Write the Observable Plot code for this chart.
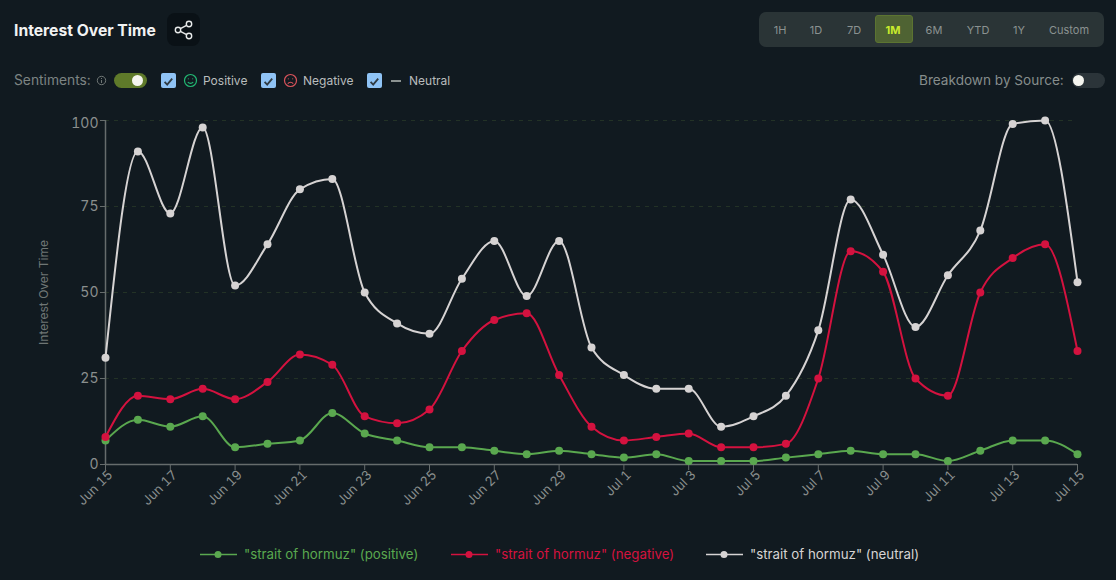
<!DOCTYPE html>
<html><head><meta charset="utf-8">
<script src="https://cdn.jsdelivr.net/npm/d3@7"></script>
<script src="https://cdn.jsdelivr.net/npm/@observablehq/plot@0.6"></script>
<style>
html,body{margin:0;padding:0;background:#111a20;width:1116px;height:580px;overflow:hidden;font-family:Inter,sans-serif}
.a{position:absolute;white-space:nowrap;line-height:1}
#chart{position:absolute;left:0;top:100px}
#chart svg{background:transparent;display:block}
.cb{position:absolute;top:73px;width:15px;height:15px;border-radius:2px;background:#8fc3f5;color:#2a3238}
.range{position:absolute;font-size:11px;color:#8b9291;transform:translateX(-50%);line-height:1}
.leg{position:absolute;top:546px;font-size:13.3px;line-height:17px;white-space:nowrap}
</style></head><body>
<div class="a" style="left:14px;top:23px;font-size:15.7px;font-weight:700;color:#f2f3f3">Interest Over Time</div>
<div class="a" style="left:167px;top:13px;width:33px;height:33px;border-radius:8px;background:#0a1116">
<svg width="33" height="33" viewBox="0 0 33 33" fill="none" stroke="#e8eaea" stroke-width="1.4"><circle cx="22" cy="11" r="2.7"/><circle cx="11" cy="17" r="2.7"/><circle cx="22" cy="23" r="2.7"/><path d="M13.4 15.7l6.2-3.4M13.4 18.3l6.2 3.4"/></svg></div>
<div class="a" style="left:14px;top:74px;font-size:13.8px;color:#7d8483">Sentiments:</div>
<svg class="a" style="left:96px;top:75px" width="11" height="11" viewBox="0 0 11 11" fill="none" stroke="#6f7675"><circle cx="5.5" cy="5.5" r="4.2"/><path d="M5.5 5v3M5.5 3v1"/></svg>
<div class="a" style="left:114px;top:73px;width:33px;height:15px;border-radius:8px;background:#5f7a2a"><div style="position:absolute;left:18px;top:2px;width:11px;height:11px;border-radius:50%;background:#f5f5ef"></div></div>
<div class="cb" style="left:161px"><svg width="15" height="15" fill="none" stroke="#2f3a42" stroke-width="1.8"><path d="M3.6 7.8l2.6 2.8 5-6"/></svg></div>
<svg class="a" style="left:183px;top:73px" width="15" height="15" fill="none" stroke="#22b873" stroke-width="1.2"><circle cx="7.5" cy="7.5" r="6"/><path d="M4.8 9c1.4 1.8 4 1.8 5.4 0M5.4 5.6v.6M9.6 5.6v.6"/></svg>
<div class="a" style="left:203px;top:75px;font-size:12px;color:#b9bdbd">Positive</div>
<div class="cb" style="left:261px"><svg width="15" height="15" fill="none" stroke="#2f3a42" stroke-width="1.8"><path d="M3.6 7.8l2.6 2.8 5-6"/></svg></div>
<svg class="a" style="left:283px;top:73px" width="15" height="15" fill="none" stroke="#d9535b" stroke-width="1.2"><circle cx="7.5" cy="7.5" r="6"/><path d="M4.8 10.6c1.4-1.8 4-1.8 5.4 0M5.4 5.6v.6M9.6 5.6v.6"/></svg>
<div class="a" style="left:303px;top:75px;font-size:12px;color:#b9bdbd">Negative</div>
<div class="cb" style="left:367px"><svg width="15" height="15" fill="none" stroke="#2f3a42" stroke-width="1.8"><path d="M3.6 7.8l2.6 2.8 5-6"/></svg></div>
<div class="a" style="left:391px;top:80px;width:10px;height:1.5px;background:#8b9291"></div>
<div class="a" style="left:409px;top:75px;font-size:12px;color:#b9bdbd">Neutral</div>
<div class="a" style="left:919px;top:74px;font-size:13.6px;color:#868d8c">Breakdown by Source:</div>
<div class="a" style="left:1072px;top:73px;width:33px;height:15px;border-radius:8px;background:#2b3439"><div style="position:absolute;left:1px;top:2px;width:11px;height:11px;border-radius:50%;background:#f5f5ef"></div></div>
<div class="a" style="left:759px;top:12px;width:345px;height:35px;border-radius:7px;background:#2a3436"></div>
<div class="a" style="left:875px;top:16px;width:36px;height:26px;border-radius:3px;background:#4f6333;border:1px solid #5c7431;box-sizing:content-box;margin:-1px 0 0 0"></div>
<div id="ranges"></div>
<div id="chart"></div>
<div id="legend"></div>
<script>
const dates = ["2025-06-15","2025-06-16","2025-06-17","2025-06-18","2025-06-19","2025-06-20","2025-06-21","2025-06-22","2025-06-23","2025-06-24","2025-06-25","2025-06-26","2025-06-27","2025-06-28","2025-06-29","2025-06-30","2025-07-01","2025-07-02","2025-07-03","2025-07-04","2025-07-05","2025-07-06","2025-07-07","2025-07-08","2025-07-09","2025-07-10","2025-07-11","2025-07-12","2025-07-13","2025-07-14","2025-07-15"].map(d=>new Date(d));
const positive = [7,13,11,14,5,6,7,15,9,7,5,5,4,3,4,3,2,3,1,1,1,2,3,4,3,3,1,4,7,7,3];
const negative = [8,20,19,22,19,24,32,29,14,12,16,33,42,44,26,11,7,8,9,5,5,6,25,62,56,25,20,50,60,64,33];
const neutral = [31,91,73,98,52,64,80,83,50,41,38,54,65,49,65,34,26,22,22,11,14,20,39,77,61,40,55,68,99,100,53];
const yTicks = [0,25,50,75,100];
const yTicksLower = [0,25,50,75];
const yTickTop = [100];
const gridTicks = [25,50,75,100];
const rangeLabels = ["1H","1D","7D","1M","6M","YTD","1Y","Custom"];
const rangeCenters = [780,816,854,893,934,978,1019,1069];
const seriesNames = ['"strait of hormuz" (positive)','"strait of hormuz" (negative)','"strait of hormuz" (neutral)'];
const seriesColors = ["#5aa84f","#d4123f","#d6d3d3"];
const seriesValues = [positive,negative,neutral];
const legendLefts = [200,451,706];

document.getElementById("ranges").innerHTML = rangeLabels.map((l,i)=>`<div class="range" style="left:${rangeCenters[i]}px;top:25px;${l==="1M"?"color:#c8ec2c;font-weight:700":""}">${l}</div>`).join("");
document.getElementById("legend").innerHTML = seriesNames.map((n,i)=>`<div class="leg" style="left:${legendLefts[i]}px;color:${seriesColors[i]}"><svg width="37" height="17" style="vertical-align:top;margin-right:7px"><line x1="0" x2="37" y1="8.5" y2="8.5" stroke="${seriesColors[i]}" stroke-width="1.5"/><circle cx="18" cy="8.5" r="3.5" fill="${seriesColors[i]}"/></svg>${n}</div>`).join("");

const axisGray = "#666c6c";
const tickDates = dates.filter((d,i)=>i%2===0);
const marks = [
  Plot.ruleY(gridTicks,{stroke:"#233226",strokeDasharray:"4,5",strokeWidth:1}),
  Plot.axisY({ticks:yTicks,tickSize:5,tickFormat:()=>"",label:null,stroke:axisGray}),
  Plot.axisY({ticks:yTicksLower,tickSize:0,tickPadding:7,label:null,fontSize:14,color:"#8a8f8e",fontFamily:"Inter"}),
  Plot.axisY({ticks:yTickTop,tickSize:0,tickPadding:7,dy:3.5,label:null,fontSize:14,color:"#8a8f8e",fontFamily:"Inter"}),
  Plot.axisY({ticks:[],label:"Interest Over Time",labelAnchor:"center",labelArrow:"none",labelOffset:66,fontSize:12,color:"#6f7675",fontFamily:"Inter"}),
  Plot.axisX({ticks:tickDates,tickSize:6,tickFormat:()=>"",label:null,stroke:axisGray}),
  Plot.axisX({ticks:tickDates,tickFormat:d3.utcFormat("%b %-d"),tickRotate:-45,tickSize:0,tickPadding:8,dx:5,label:null,fontSize:13,color:"#8a8f8e",fontFamily:"Inter"}),
  Plot.ruleY([0],{stroke:axisGray,strokeWidth:1.5}),
  Plot.ruleX([dates[0]],{stroke:axisGray,strokeWidth:1.5})
];
[0,1,2].forEach(s=>{
  const t = dates.map((d,i)=>({date:d,value:seriesValues[s][i]}));
  marks.push(Plot.line(t,{x:"date",y:"value",stroke:seriesColors[s],strokeWidth:2,curve:"monotone-x"}));
  marks.push(Plot.dot(t,{x:"date",y:"value",fill:seriesColors[s],r:4}));
});
document.getElementById("chart").append(Plot.plot({
  width:1116,height:440,marginLeft:105,marginRight:39,marginTop:20,marginBottom:76,
  style:{background:"transparent",fontFamily:"Inter"},
  x:{type:"utc",domain:[dates[0],dates[30]]},
  y:{domain:[0,100]},
  marks
}));
</script></body></html>
